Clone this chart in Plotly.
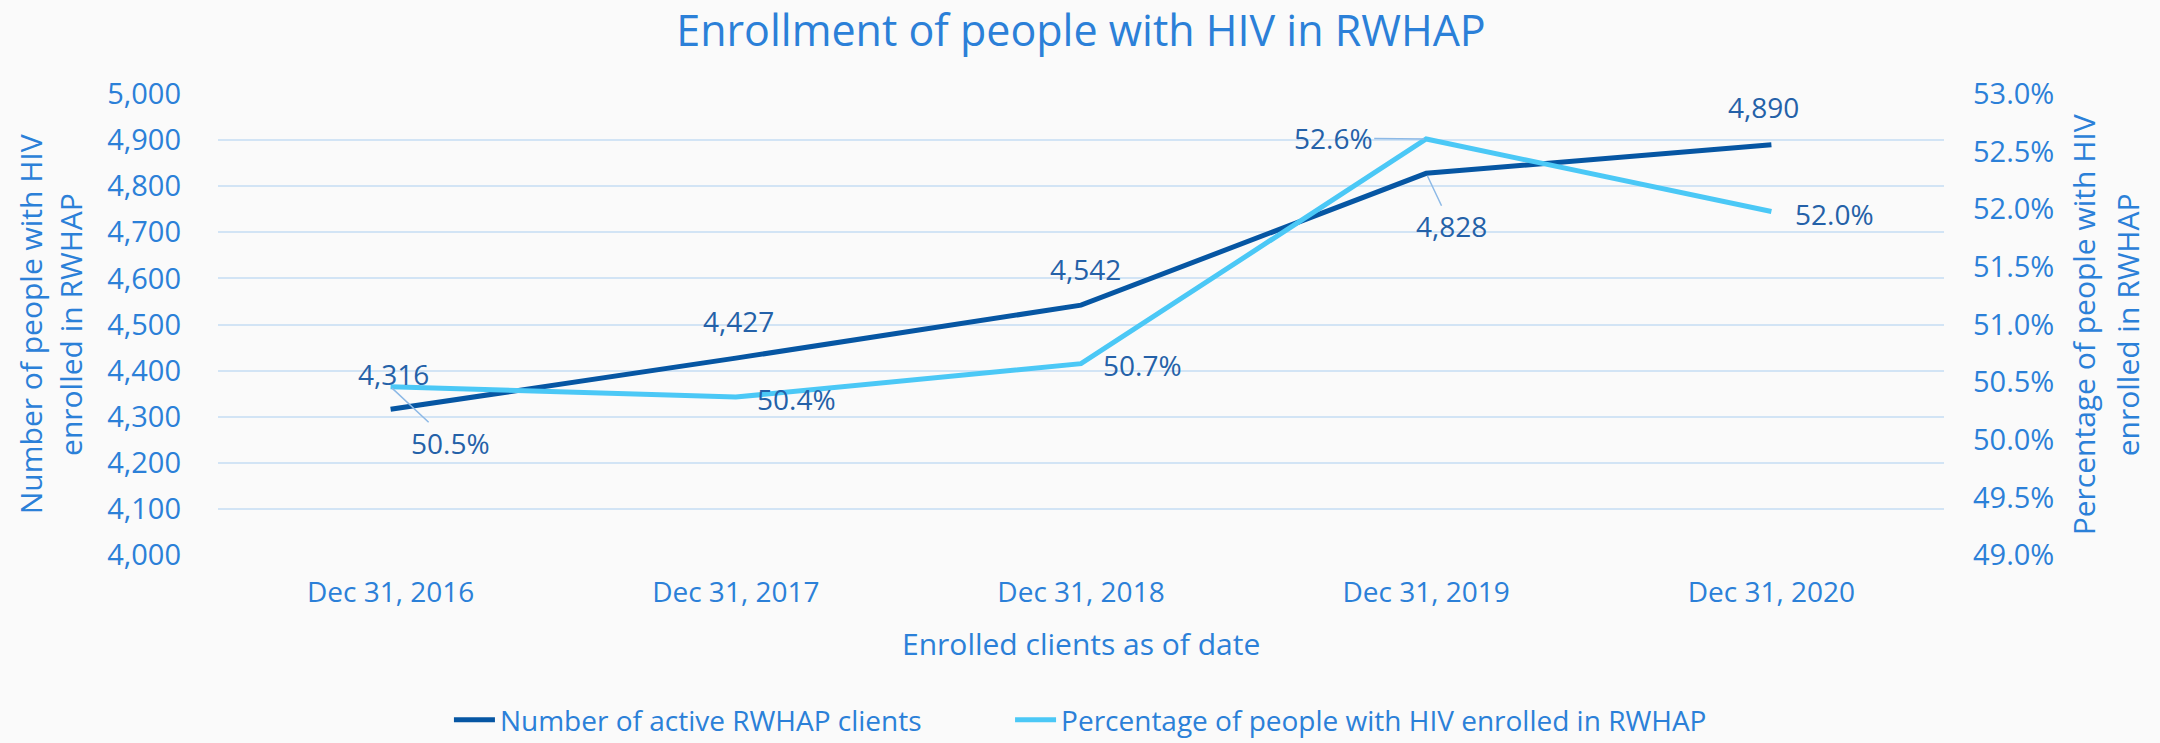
import plotly.graph_objects as go

categories = ["Dec 31, 2016", "Dec 31, 2017", "Dec 31, 2018", "Dec 31, 2019", "Dec 31, 2020"]
clients = [4316, 4427, 4542, 4828, 4890]
percent = [50.46, 50.37, 50.66, 52.61, 51.98]
client_labels = ["4,316", "4,427", "4,542", "4,828", "4,890"]
percent_labels = ["50.5%", "50.4%", "50.7%", "52.6%", "52.0%"]

FONT = "Open Sans"
TICK_C = "#2B80D8"
LABEL_C = "#2461A8"
DARK = "#0656A3"
LIGHT = "#4BC8F6"
GRID = "#D2E4F5"
LEAD = "#8DB9E6"
LBL_SIZE = 28

fig = go.Figure()
fig.add_trace(go.Scatter(x=categories, y=clients, mode="lines", name="Number of active RWHAP clients",
                         line=dict(color=DARK, width=5), yaxis="y", legend="legend"))
fig.add_trace(go.Scatter(x=categories, y=percent, mode="lines",
                         name="Percentage of people with HIV enrolled in RWHAP",
                         line=dict(color=LIGHT, width=5), yaxis="y2", legend="legend2"))

# data label offsets (pixels): (dx, dy up-positive, leader)
client_off = [(3, 35, False), (3, 37, False), (4, 36, False), (25, -53, True), (-8, 38, False)]
percent_off = [(60, -56, True), (61, -2, False), (61, -1, False), (-93, 1, True), (63, -2, False)]

ann = []
for cat, v, t, (dx, dy, lead) in zip(categories, clients, client_labels, client_off):
    if lead:
        ann.append(dict(x=cat, y=v, xref="x", yref="y", text=t, showarrow=True, ax=dx, ay=-dy,
                        arrowhead=0, arrowwidth=1.5, arrowcolor=LEAD, standoff=3,
                        font=dict(family=FONT, size=LBL_SIZE, color=LABEL_C)))
    else:
        ann.append(dict(x=cat, y=v, xref="x", yref="y", text=t, showarrow=False, xshift=dx, yshift=dy,
                        font=dict(family=FONT, size=LBL_SIZE, color=LABEL_C)))
for cat, v, t, (dx, dy, lead) in zip(categories, percent, percent_labels, percent_off):
    if lead:
        ann.append(dict(x=cat, y=v, xref="x", yref="y2", text=t, showarrow=True, ax=dx, ay=-dy,
                        arrowhead=0, arrowwidth=1.5, arrowcolor=LEAD, standoff=2,
                        font=dict(family=FONT, size=LBL_SIZE, color=LABEL_C)))
    else:
        ann.append(dict(x=cat, y=v, xref="x", yref="y2", text=t, showarrow=False, xshift=dx, yshift=dy,
                        font=dict(family=FONT, size=LBL_SIZE, color=LABEL_C)))

axis_font = dict(family=FONT, size=30, color=TICK_C)
# axis titles
ann += [
    dict(text="Number of people with HIV", xref="paper", yref="paper", x=-0.1085, y=0.5,
         textangle=-90, showarrow=False, xanchor="center", yanchor="middle", font=axis_font),
    dict(text="enrolled in RWHAP", xref="paper", yref="paper", x=-0.0855, y=0.5,
         textangle=-90, showarrow=False, xanchor="center", yanchor="middle", font=axis_font),
    dict(text="Percentage of people with HIV", xref="paper", yref="paper", x=1.081, y=0.5,
         textangle=-90, showarrow=False, xanchor="center", yanchor="middle", font=axis_font),
    dict(text="enrolled in RWHAP", xref="paper", yref="paper", x=1.1065, y=0.5,
         textangle=-90, showarrow=False, xanchor="center", yanchor="middle", font=axis_font),
    dict(text="Enrolled clients as of date", xref="paper", yref="paper", x=0.5, y=-0.191,
         showarrow=False, xanchor="center", yanchor="middle", font=axis_font),
]

legend_style = dict(orientation="h", xanchor="left", y=-0.358, yanchor="middle", itemwidth=41,
                    font=dict(family=FONT, size=28, color=TICK_C), bgcolor="rgba(0,0,0,0)")

fig.update_layout(
    width=2160, height=743,
    margin=dict(l=218, r=216, t=94, b=188, pad=0, autoexpand=False),
    paper_bgcolor="#FAFAFA", plot_bgcolor="#FAFAFA",
    font=dict(family=FONT, color=TICK_C),
    title=dict(text="Enrollment of people with HIV in RWHAP", x=0.5, xanchor="center",
               xref="paper", y=1 - 31 / 743, yref="container", yanchor="middle",
               font=dict(family=FONT, size=43, color=TICK_C)),
    xaxis=dict(type="category", range=[-0.5, 4.5], showgrid=False, zeroline=False, showline=False,
               automargin=False,
               ticks="", tickfont=dict(family=FONT, size=28, color=TICK_C), ticklabelstandoff=18),
    yaxis=dict(range=[4000, 5000], dtick=100, tickformat=",", showgrid=True, gridcolor=GRID, gridwidth=2,
               zeroline=False, showline=False, ticks="", ticklabelstandoff=36, automargin=False,
               tickfont=dict(family=FONT, size=29, color=TICK_C)),
    yaxis2=dict(range=[49, 53], dtick=0.5, tickformat=".1f", ticksuffix="%", overlaying="y", side="right",
                showgrid=False, zeroline=False, showline=False, ticks="", ticklabelstandoff=28,
                automargin=False, tickfont=dict(family=FONT, size=29, color=TICK_C)),
    legend=dict(x=0.1338, **legend_style),
    legend2=dict(x=0.4589, **legend_style),
    showlegend=True,
    annotations=ann,
)

fig.write_html("out.html")
